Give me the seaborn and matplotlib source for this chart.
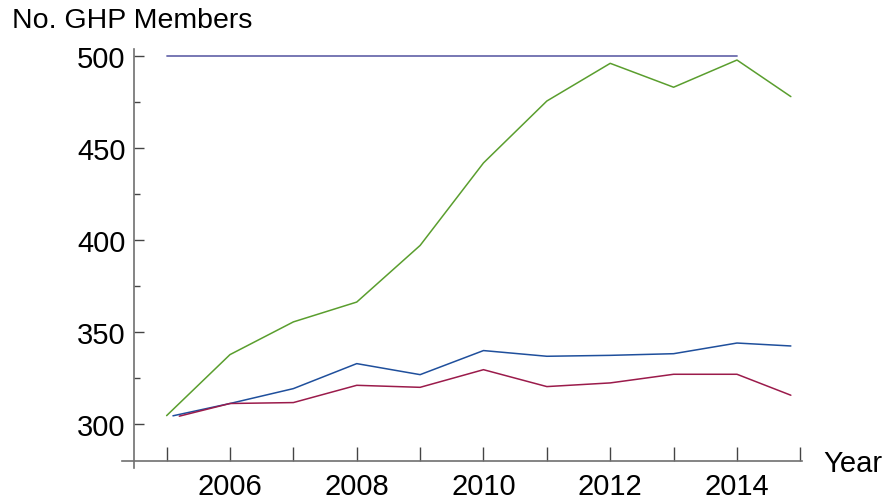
import matplotlib
matplotlib.use("Agg")
import matplotlib.pyplot as plt
import seaborn as sns
import pandas as pd
from matplotlib.ticker import FixedLocator, FuncFormatter

# ---- data ----
years_green = [2005.0, 2006, 2007, 2008, 2009, 2010, 2011, 2012, 2013, 2014, 2014.85]
green = [304.3, 337.5, 355.3, 366.1, 396.9, 441.8, 475.5, 496.0, 483.0, 497.8, 477.9]

years_blue = [2005.1, 2006, 2007, 2008, 2009, 2010, 2011, 2012, 2013, 2014, 2014.85]
blue = [304.2, 310.9, 319.0, 332.6, 326.6, 339.7, 336.6, 337.1, 338.0, 343.8, 342.2]

years_red = [2005.2, 2006, 2007, 2008, 2009, 2010, 2011, 2012, 2013, 2014, 2014.85]
red = [304.0, 310.9, 311.4, 320.8, 319.7, 329.3, 320.1, 322.1, 326.8, 326.8, 315.4]

ref_years = [2005, 2014]
ref_values = [500, 500]

x_ticks = list(range(2005, 2016))
x_labelled = [2006, 2008, 2010, 2012, 2014]
y_major = [300, 350, 400, 450, 500]
y_minor = [325, 375, 425, 475]

# ---- frame ----
df = pd.concat([
    pd.DataFrame({"Year": years_green, "Members": green, "series": "green"}),
    pd.DataFrame({"Year": years_blue, "Members": blue, "series": "blue"}),
    pd.DataFrame({"Year": years_red, "Members": red, "series": "red"}),
])
ref = pd.DataFrame({"Year": ref_years, "Members": ref_values})

sns.set_theme(style="white")
plt.rcParams["font.family"] = ["Liberation Sans", "DejaVu Sans"]
plt.rcParams["text.color"] = "black"
plt.rcParams["xtick.labelcolor"] = "black"
plt.rcParams["ytick.labelcolor"] = "black"

W, H = 886, 502
fig = plt.figure(figsize=(W / 100, H / 100), dpi=100)
ax = fig.add_axes([122 / W, 1 - 469 / H, (802 - 122) / W, (469 - 50) / H])

palette = {"green": "#5a9e2e", "blue": "#1f4f9c", "red": "#9b1b4b"}
sns.lineplot(data=ref, x="Year", y="Members", color="#6c6cae", lw=1.3, ax=ax)
sns.lineplot(data=df, x="Year", y="Members", hue="series", palette=palette,
             lw=1.1, sort=False, estimator=None, legend=False, ax=ax)

ax.set_xlim(2004.296, 2015.026)
ax.set_ylim(275.8, 503.8)

for s in ["top", "right"]:
    ax.spines[s].set_visible(False)
ax.spines["left"].set_position(("data", 2004.486))
ax.spines["bottom"].set_position(("data", 279.6))
for s in ["left", "bottom"]:
    ax.spines[s].set_color("#707070")
    ax.spines[s].set_linewidth(1.2)

ax.xaxis.set_major_locator(FixedLocator(x_ticks))
ax.xaxis.set_major_formatter(FuncFormatter(lambda v, p: f"{int(round(v))}" if int(round(v)) in x_labelled else ""))
ax.yaxis.set_major_locator(FixedLocator(y_major))
ax.yaxis.set_minor_locator(FixedLocator(y_minor))

ax.tick_params(axis="x", which="major", direction="in", length=10, width=1, color="#444444",
               labelsize=21, pad=8, bottom=True)
ax.tick_params(axis="y", which="major", direction="in", length=7, width=1, color="#444444",
               labelsize=21, pad=6, left=True)
ax.tick_params(axis="y", which="minor", direction="in", length=4.5, width=1, color="#444444", left=True)

ax.set_xlabel("")
ax.set_ylabel("")
ax.grid(False)

fig.text(12 / W, 1 - 28 / H, "No. GHP Members", fontsize=20.5, va="baseline", ha="left")
fig.text(823 / W, 1 - 472 / H, "Year", fontsize=21, va="baseline", ha="left")

fig.savefig("out.png", dpi=100)
